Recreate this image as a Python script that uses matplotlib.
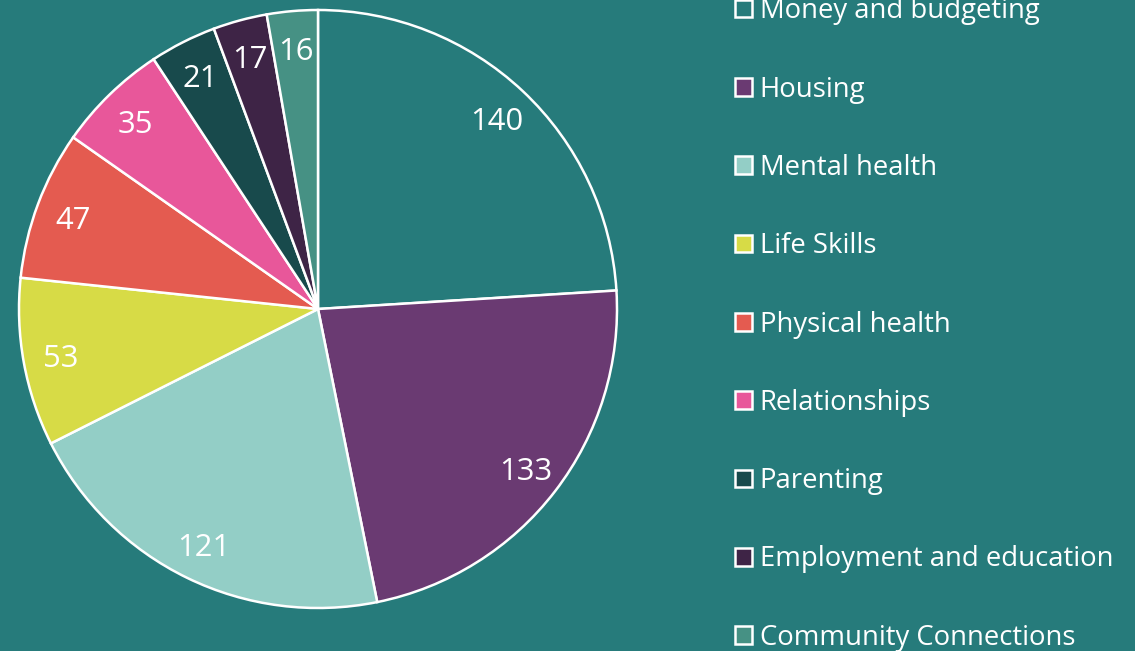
import matplotlib
matplotlib.use("Agg")
import matplotlib.pyplot as plt

categories = ["Money and budgeting", "Housing", "Mental health", "Life Skills",
              "Physical health", "Relationships", "Parenting",
              "Employment and education", "Community Connections"]
values = [140, 133, 121, 53, 47, 35, 21, 17, 16]
colors = ["#267B7B", "#6A3A72", "#93CEC6", "#D7DB46", "#E45B50",
          "#E8579A", "#184A4C", "#3E2446", "#469184"]

BG = "#267B7B"
plt.rcParams['font.family'] = ['Open Sans', 'DejaVu Sans']

W, H = 1135, 651
fig = plt.figure(figsize=(W / 100, H / 100), dpi=100, facecolor=BG)

cx, cy, r = 318, 309, 299
lim = 1.01
half = r * lim
ax = fig.add_axes([(cx - half) / W, (H - cy - half) / H, 2 * half / W, 2 * half / H])
ax.set_facecolor(BG)

wedges, texts, autotexts = ax.pie(
    values, colors=colors, startangle=90, counterclock=False,
    autopct=lambda p: f"{round(p * sum(values) / 100):d}", pctdistance=0.875,
    wedgeprops=dict(edgecolor="white", linewidth=1.8),
    textprops=dict(color="white", fontsize=22.3))
for t in autotexts:
    t.set_va("center_baseline")
ax.set_xlim(-lim, lim)
ax.set_ylim(-lim, lim)
ax.set_aspect("equal")
for w in wedges:
    w.set_clip_on(False)

leg = fig.legend(wedges, categories, loc="center left",
                 bbox_to_anchor=(735 / W, 1 - 324.5 / H),
                 frameon=False, fontsize=19.8, labelcolor="white",
                 handlelength=0.6, handleheight=0.6, handletextpad=0.3,
                 labelspacing=1.83, borderpad=0, borderaxespad=0)

fig.savefig("out.png", dpi=100, facecolor=BG)
